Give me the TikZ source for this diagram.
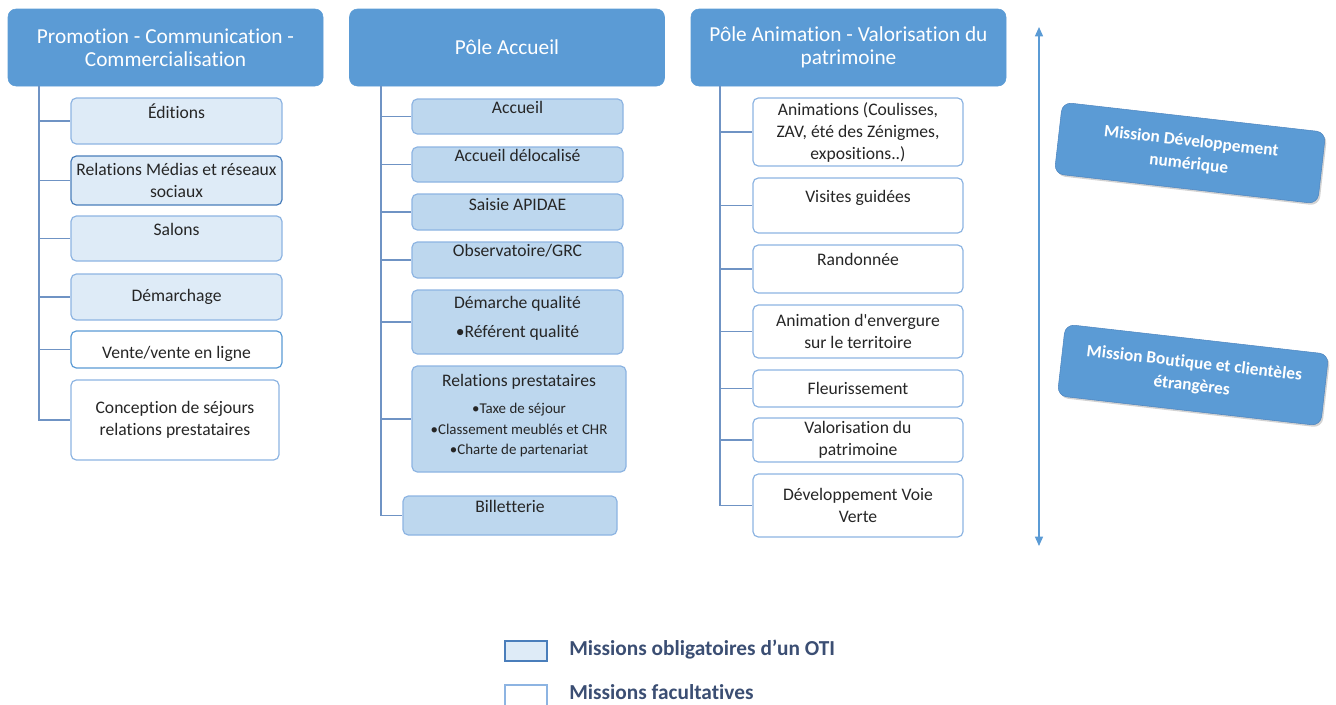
\documentclass[tikz,border=0pt]{standalone}
\usepackage{fontspec}
\setmainfont{Carlito}[Ligatures={TeX,NoCommon}]
\usetikzlibrary{arrows.meta}
\usetikzlibrary{shadows}
\definecolor{poleblue}{HTML}{5B9BD5}
\definecolor{poleedge}{HTML}{4F86C0}
\definecolor{paleblue}{HTML}{DEEBF7}
\definecolor{midblue}{HTML}{BDD7EE}
\definecolor{boxedge}{HTML}{8DB4E2}
\definecolor{darkedge}{HTML}{4A7EBB}
\definecolor{linkblue}{HTML}{6F93C4}
\definecolor{inktext}{HTML}{262626}
\definecolor{keytext}{HTML}{3B4E73}
\tikzset{
    wh/.style 2 args={minimum width=#1*0.75pt, minimum height=#2*0.75pt},
    lift/.style={text depth=#1},
    task/.style={draw=boxedge, line width=0.9pt, rounded corners=4pt, align=center,
        inner sep=1.5pt, text=inktext, font=\fontsize{13.2}{16.5}\selectfont},
    oblig/.style={task, fill=paleblue},
    accueil/.style={task, fill=midblue},
    facult/.style={task, fill=white},
    pole/.style={fill=poleblue, draw=poleblue, rounded corners=6pt, text=white, align=center,
        font=\fontsize{16}{17.5}\selectfont, wh={315}{77}}
}
\tikzset{
    mission/.style={fill=poleblue, draw=poleedge, rounded corners=7pt, text=white, align=center,
        font=\bfseries\fontsize{13}{17}\selectfont, wh={265}{72}, rotate=-6.5,
        drop shadow={opacity=0.35, shadow xshift=1.2pt, shadow yshift=-1.5pt}},
    link/.style={draw=linkblue, line width=1.1pt},
    spanarrow/.style={draw=poleblue, line width=1pt, <->, >={Triangle[width=6pt,length=7pt]}},
    keybox/.style={line width=1pt, wh={42}{20}},
    keylabel/.style={text=keytext, font=\bfseries\fontsize{16}{18}\selectfont, inner sep=0pt, anchor=west}
}
\begin{document}
\begin{tikzpicture}[x=0.75pt, y=-0.75pt]
    \useasboundingbox (0,0) rectangle (1336,704);
    % poles
    \node[pole] (h1) at (165.5,47.5) {Promotion - Communication -\\Commercialisation};
    \node[pole] (h2) at (507,47.5) {Pôle Accueil};
    \node[pole] (h3) at (848.5,47.5) {Pôle Animation - Valorisation du\\patrimoine};
    \coordinate (t1) at (39,86);
    \coordinate (t2) at (381,86);
    \coordinate (t3) at (720,86);
    % promotion
    \node[oblig, wh={211}{46}, lift=15pt] (a1) at (176.5,121) {Éditions};
    \node[oblig, wh={211}{49}, draw=darkedge] (a2) at (176.5,180.5) {Relations Médias et réseaux\\sociaux};
    \node[oblig, wh={211}{45}, lift=13pt] (a3) at (176.5,238.5) {Salons};
    \node[oblig, wh={211}{46}] (a4) at (176.5,297) {Démarchage};
    \node[facult, wh={211}{37}, draw=poleblue, text height=16pt] (a5) at (176.5,349.5) {Vente/vente en ligne};
    \node[facult, wh={208}{80}] (a6) at (175,420) {Conception de séjours\\relations prestataires};
    % accueil
    \node[accueil, wh={211}{35}, lift=13pt] (b1) at (517.5,116.5) {Accueil};
    \node[accueil, wh={211}{35}, lift=13pt] (b2) at (517.5,164.5) {Accueil délocalisé};
    \node[accueil, wh={211}{36}, lift=12pt] (b3) at (517.5,212) {Saisie APIDAE};
    \node[accueil, wh={211}{36}, lift=14pt] (b4) at (517.5,260) {Observatoire/GRC};
    \node[accueil, wh={211}{64}, lift=8pt] (b5) at (517.5,322) {Démarche qualité\\[5pt]•Référent qualité};
    \node[accueil, wh={214}{106}, lift=7pt, font=\fontsize{11.2}{15.5}\selectfont] (b6) at (519,419)
        {{\fontsize{13.2}{16.5}\selectfont Relations prestataires}\\[5pt]•Taxe de séjour\\•Classement meublés et CHR\\•Charte de partenariat};
    \node[accueil, wh={214}{39}, lift=14pt] (b7) at (510,515.5) {Billetterie};
    % animation
    \node[facult, wh={210}{68}] (c1) at (858,132) {Animations (Coulisses,\\ZAV, été des Zénigmes,\\expositions..)};
    \node[facult, wh={210}{55}, lift=14pt] (c2) at (858,205.5) {Visites guidées};
    \node[facult, wh={210}{48}, lift=15pt] (c3) at (858,269) {Randonnée};
    \node[facult, wh={210}{53}] (c4) at (858,331.5) {Animation d\textquotesingle envergure\\sur le territoire};
    \node[facult, wh={210}{37}] (c5) at (858,388.5) {Fleurissement};
    \node[facult, wh={210}{44}] (c6) at (858,440) {Valorisation du\\patrimoine};
    \node[facult, wh={210}{63}] (c7) at (858,505.5) {Développement Voie\\Verte};
    \foreach \i in {1,...,6} \draw[link] (t1) |- (a\i.west);
    \foreach \i in {1,...,7} \draw[link] (t2) |- (b\i.west);
    \foreach \i in {1,...,7} \draw[link] (t3) |- (c\i.west);
    % missions
    \coordinate (top) at (1039,27);
    \coordinate (bot) at (1039,546);
    \draw[spanarrow] (bot) -- (top);
    \node[mission] (m1) at (1190,153) {Mission Développement\\numérique};
    \node[mission] (m2) at (1193,375) {Mission Boutique et clientèles\\étrangères};
    % legend
    \node[keybox, fill=paleblue, draw=darkedge] (k1) at (526,651) {};
    \node[keybox, fill=white, draw=boxedge, wh={42}{23}] (k2) at (526,696.5) {};
    \node[keylabel] (l1) at (569,650) {Missions obligatoires d’un OTI};
    \node[keylabel] (l2) at (569,692) {Missions facultatives};
\end{tikzpicture}
\end{document}
